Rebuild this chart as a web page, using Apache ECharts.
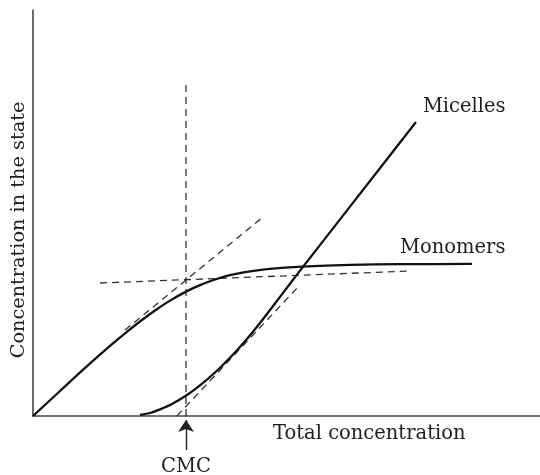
<!DOCTYPE html>
<html>
<head>
<meta charset="utf-8">
<script src="https://cdn.jsdelivr.net/npm/echarts@6/dist/echarts.min.js"></script>
<style>
  html, body { margin: 0; padding: 0; background: #fff; }
  #chart { width: 540px; height: 475px; }
</style>
</head>
<body>
<div id="chart"></div>
<script>
// Monomer concentration vs. total surfactant concentration (arbitrary units)
const monomerTotal = [0, 5.33, 10.65, 15.19, 18.15, 21.10, 24.06, 27.02, 30.37, 32.94, 35.90, 38.86, 41.81, 45.36, 49.70, 53.06, 62.52, 72.39, 86.59];
const monomerConc  = [0, 6.16, 12.27, 17.27, 20.37, 23.28, 25.99, 28.42, 30.76, 32.24, 33.62, 34.68, 35.44, 36.06, 36.55, 36.80, 37.22, 37.39, 37.46];

// Surfactant bound in micelles vs. total concentration
const micelleTotal = [21.10, 23.08, 25.05, 27.42, 30.37, 32.94, 35.90, 38.86, 41.81, 44.77, 47.73, 50.69, 53.06, 62.52, 75.54];
const micelleConc  = [0.25, 0.74, 1.63, 2.96, 5.17, 7.54, 10.71, 14.33, 18.40, 22.91, 27.71, 32.59, 36.43, 51.58, 72.41];

// Construction lines used to locate the CMC
const cmcValue = 30.18;
const cmcGuideTop = 82.0;
const plateauGuide = [[13.21, 32.76], [74.36, 35.71]];
const monomerTangent = [[18.15, 21.18], [45.36, 49.01]];
const micelleTangent = [[28.40, 0], [52.27, 31.77]];
const cmcArrow = [[cmcValue, -8.4], [cmcValue, -1.0]];

// Curve labels: [x, y, text]
const curveLabels = [[76.9, 76.1, 'Micelles'], [72.4, 41.4, 'Monomers']];

const FONT = 'DejaVu Serif';
const INK = '#1e1e1e';
const dashStyle = { color: '#333', width: 1.3, type: [7, 5] };

const toPairs = (xs, ys) => xs.map((x, i) => [x, ys[i]]);

const chart = echarts.init(document.getElementById('chart'), null, { renderer: 'canvas' });

chart.setOption({
  animation: false,
  backgroundColor: '#fff',
  grid: { left: 33, right: 0, top: 10, bottom: 59, outerBoundsMode: 'none' },
  xAxis: {
    type: 'value', min: 0, max: 100,
    axisLine: { show: true, lineStyle: { color: '#444', width: 1.6 } },
    axisTick: { show: false }, axisLabel: { show: false }, splitLine: { show: false }
  },
  yAxis: {
    type: 'value', min: 0, max: 100,
    axisLine: { show: true, lineStyle: { color: '#444', width: 1.6 } },
    axisTick: { show: false }, axisLabel: { show: false }, splitLine: { show: false }
  },
  series: [
    {
      name: 'Monomers', type: 'line', smooth: 0.25, showSymbol: false,
      lineStyle: { color: '#111', width: 2.3 },
      data: toPairs(monomerTotal, monomerConc), z: 5
    },
    {
      name: 'Micelles', type: 'line', smooth: 0.25, showSymbol: false,
      lineStyle: { color: '#111', width: 2.3 },
      data: toPairs(micelleTotal, micelleConc), z: 5
    },
    {
      name: 'CMC line', type: 'line', showSymbol: false, lineStyle: dashStyle,
      data: [[cmcValue, 0], [cmcValue, cmcGuideTop]]
    },
    {
      name: 'Plateau', type: 'line', showSymbol: false, lineStyle: dashStyle,
      data: plateauGuide
    },
    {
      name: 'Monomer tangent', type: 'line', showSymbol: false, lineStyle: dashStyle,
      data: monomerTangent
    },
    {
      name: 'Micelle tangent', type: 'line', showSymbol: false, lineStyle: dashStyle,
      data: micelleTangent
    },
    {
      name: 'CMC arrow', type: 'lines', coordinateSystem: 'cartesian2d', clip: false,
      symbol: ['none', 'arrow'], symbolSize: [9, 12],
      lineStyle: { color: '#222', width: 1.4, type: 'solid', opacity: 1 },
      label: {
        show: true, position: 'start', formatter: 'CMC', distance: 7,
        fontFamily: FONT, fontSize: 19.5, color: INK
      },
      data: [{ coords: cmcArrow }]
    },
    {
      name: 'Labels', type: 'scatter', symbolSize: 0, clip: false,
      itemStyle: { opacity: 1 },
      data: curveLabels.map(d => ({ value: [d[0], d[1]], name: d[2] })),
      label: {
        show: true, position: 'inside', align: 'left', verticalAlign: 'middle',
        formatter: p => p.name, fontFamily: FONT, fontSize: 19.5, color: INK, opacity: 1
      }
    }
  ],
  graphic: [
    {
      type: 'text', left: 273, top: 424,
      style: { text: 'Total concentration', font: '19.5px "DejaVu Serif"', fill: INK }
    },
    {
      type: 'text', x: 19, y: 230, rotation: Math.PI / 2,
      style: {
        text: 'Concentration in the state', font: '19.3px "DejaVu Serif"', fill: INK,
        align: 'center', verticalAlign: 'middle'
      }
    }
  ]
});
</script>
</body>
</html>
